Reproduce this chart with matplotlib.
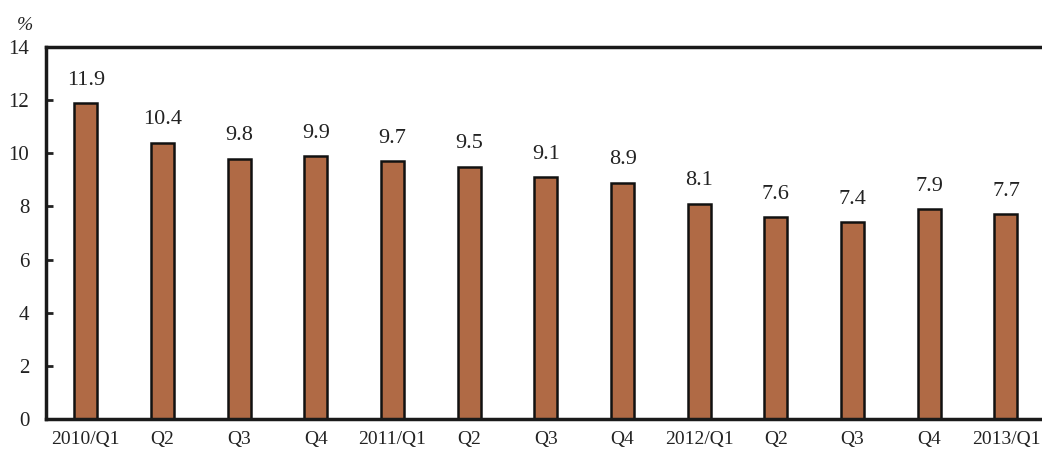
import matplotlib.pyplot as plt

# quarterly growth rate, %
quarters = ['2010/Q1', 'Q2', 'Q3', 'Q4', '2011/Q1', 'Q2', 'Q3', 'Q4',
            '2012/Q1', 'Q2', 'Q3', 'Q4', '2013/Q1']
growth = [11.9, 10.4, 9.8, 9.9, 9.7, 9.5, 9.1, 8.9, 8.1, 7.6, 7.4, 7.9, 7.7]
yticks = [0, 2, 4, 6, 8, 10, 12, 14]

plt.rcParams['font.family'] = ['Liberation Serif', 'DejaVu Serif']

fig = plt.figure(figsize=(10.42, 4.54), dpi=100)
ax = fig.add_axes([0.0441, 0.0771, 0.9559, 0.8194])

x = list(range(len(quarters)))
bars = ax.bar(x, growth, width=0.3, color='#B06A45', edgecolor='#111111',
              linewidth=1.8, zorder=2)

for xi, v in zip(x, growth):
    ax.text(xi, v + 0.5, f'{v:.1f}', ha='center', va='bottom', fontsize=16,
            color='#222222')

ax.set_xlim(-0.52, 12.47)
ax.set_ylim(0, 14)
ax.set_yticks(yticks)
ax.set_xticks(x)
ax.set_xticklabels(quarters)

ax.tick_params(axis='y', direction='in', length=5, width=2, labelsize=15,
               pad=12, colors='#222222')
ax.tick_params(axis='x', length=0, labelsize=14, pad=9, colors='#222222')

for side in ['left', 'top', 'bottom']:
    ax.spines[side].set_linewidth(2.5)
    ax.spines[side].set_color('#1a1a1a')
ax.spines['right'].set_visible(False)

fig.text(0.024, 0.935, '%', fontsize=14, color='#222222', ha='center',
         style='italic')

fig.savefig('out.png', dpi=100)
